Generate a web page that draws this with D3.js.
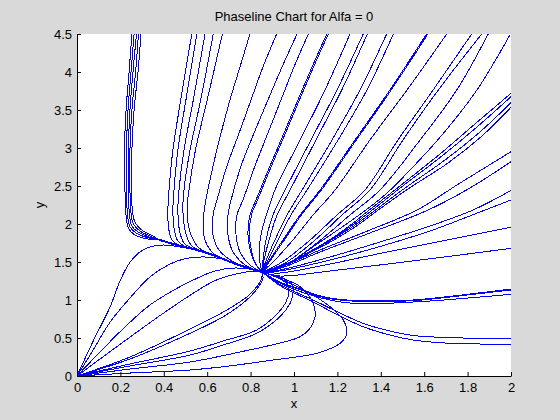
<!DOCTYPE html>
<html>
<head>
<meta charset="utf-8">
<script src="https://cdn.jsdelivr.net/npm/d3@7"></script>
<style>
  body { margin: 0; background: #d9d9d9; }
  text { font-family: "Liberation Sans", Arial, Helvetica, sans-serif; font-size: 13px; fill: #000; }
</style>
</head>
<body>
<div id="phase"></div>
<script>
// Trajectories, each one a list of [x, y] points
var xTicks = [0, 0.2, 0.4, 0.6, 0.8, 1, 1.2, 1.4, 1.6, 1.8, 2];
var yTicks = [0, 0.5, 1, 1.5, 2, 2.5, 3, 3.5, 4, 4.5];

// near-vertical bundle on the upper left
var leftBundle = [
  [[0.253,4.5],[0.240,4.0],[0.226,3.5],[0.219,2.974],[0.221,2.447],[0.226,2.118],[0.237,1.947],[0.263,1.862],[0.313,1.809],[0.382,1.789]],
  [[0.263,4.5],[0.249,4.0],[0.235,3.5],[0.228,2.974],[0.228,2.447],[0.233,2.118],[0.244,1.961],[0.272,1.882],[0.323,1.822],[0.382,1.789]],
  [[0.274,4.5],[0.258,4.0],[0.244,3.5],[0.237,2.974],[0.237,2.447],[0.242,2.118],[0.253,1.974],[0.281,1.895],[0.332,1.829],[0.382,1.789]],
  [[0.283,4.5],[0.270,4.0],[0.253,3.5],[0.244,2.974],[0.244,2.447],[0.249,2.145],[0.260,2.0],[0.290,1.908],[0.336,1.842],[0.382,1.789]],
  [[0.295,4.5],[0.281,4.0],[0.263,3.5],[0.253,2.974],[0.251,2.447],[0.256,2.158],[0.267,2.026],[0.295,1.928],[0.341,1.855],[0.382,1.789]]
];

// the common path everything collapses onto
var spine = [[0.382,1.789],[0.475,1.711],[0.544,1.664],[0.627,1.592],[0.719,1.487],[0.797,1.414],[0.853,1.368]];

// lines dropping from the top between x = 0.5 and 0.7
var upperLines = [
  [[0.529,4.5],[0.478,3.632],[0.442,2.974],[0.424,2.447],[0.419,2.184],[0.422,1.947],[0.438,1.789],[0.475,1.711]],
  [[0.552,4.5],[0.502,3.632],[0.465,2.974],[0.447,2.447],[0.442,2.184],[0.447,1.947],[0.465,1.776],[0.507,1.689]],
  [[0.590,4.5],[0.536,3.632],[0.493,2.974],[0.470,2.447],[0.465,2.184],[0.472,1.921],[0.493,1.75],[0.544,1.664]],
  [[0.628,4.5],[0.570,3.632],[0.521,2.974],[0.493,2.447],[0.488,2.184],[0.498,1.921],[0.525,1.724],[0.581,1.633]],
  [[0.670,4.5],[0.600,3.632],[0.546,2.974],[0.516,2.447],[0.507,2.184],[0.521,1.895],[0.558,1.697],[0.627,1.592]]
];

// lines between the node and the top edge
var topFan = [
  [[0.797,4.5],[0.751,4.066],[0.705,3.632],[0.664,3.197],[0.627,2.763],[0.594,2.316],[0.581,2.026],[0.590,1.789],[0.627,1.618],[0.696,1.513],[0.751,1.45]],
  [[0.920,4.5],[0.857,4.066],[0.802,3.632],[0.747,3.197],[0.691,2.763],[0.645,2.316],[0.627,2.118],[0.627,1.855],[0.654,1.658],[0.714,1.513],[0.797,1.414]],
  [[1.014,4.5],[0.945,4.066],[0.880,3.632],[0.816,3.197],[0.756,2.763],[0.710,2.316],[0.696,2.118],[0.696,1.855],[0.719,1.632],[0.774,1.461],[0.853,1.368]],
  [[1.066,4.5],[1.0,4.066],[0.940,3.632],[0.880,3.197],[0.820,2.763],[0.765,2.316],[0.737,2.118],[0.733,1.855],[0.751,1.632],[0.797,1.461],[0.853,1.368]],
  [[1.151,4.5],[1.083,4.066],[1.018,3.632],[0.954,3.197],[0.889,2.763],[0.825,2.316],[0.797,2.118],[0.788,1.855],[0.802,1.618],[0.825,1.461],[0.853,1.368]],
  [[1.158,4.5],[1.090,4.066],[1.025,3.632],[0.961,3.197],[0.896,2.763],[0.832,2.316],[0.804,2.118],[0.795,1.855],[0.806,1.618],[0.827,1.461],[0.853,1.368]],
  [[1.258,4.5],[1.143,3.763],[1.028,3.105],[0.912,2.447],[0.880,2.184],[0.853,1.921],[0.839,1.658],[0.843,1.487],[0.853,1.368]],
  [[1.319,4.5],[1.198,3.763],[1.078,3.105],[0.959,2.447],[0.903,2.118],[0.871,1.789],[0.857,1.526],[0.853,1.368]],
  [[1.338,4.5],[1.220,3.763],[1.101,3.105],[0.982,2.447],[0.922,2.118],[0.885,1.789],[0.862,1.526],[0.853,1.368]],
  [[1.427,4.5],[1.304,3.763],[1.175,3.105],[1.037,2.447],[0.968,2.118],[0.912,1.789],[0.876,1.553],[0.853,1.368]],
  [[1.458,4.5],[1.336,3.763],[1.203,3.105],[1.060,2.447],[0.986,2.118],[0.926,1.789],[0.885,1.553],[0.853,1.368]],
  [[1.611,4.5],[1.442,3.763],[1.281,3.105],[1.120,2.447],[1.028,2.118],[0.949,1.789],[0.894,1.553],[0.853,1.368]],
  [[1.617,4.5],[1.448,3.763],[1.287,3.105],[1.126,2.447],[1.034,2.118],[0.955,1.789],[0.899,1.553],[0.853,1.368]],
  [[1.704,4.5],[1.521,3.763],[1.350,3.105],[1.189,2.447],[1.088,2.118],[0.995,1.789],[0.912,1.526],[0.853,1.368]],
  [[1.819,4.5],[1.641,3.763],[1.479,3.105],[1.327,2.447],[1.198,2.118],[1.074,1.789],[0.945,1.5],[0.853,1.368]],
  [[1.865,4.5],[1.665,3.763],[1.502,3.105],[1.350,2.447],[1.221,2.118],[1.092,1.776],[0.959,1.487],[0.853,1.368]],
  [[1.895,4.5],[1.750,3.763],[1.581,3.105],[1.396,2.447],[1.258,2.118],[1.111,1.763],[0.968,1.474],[0.853,1.368]],
  [[1.995,4.487],[1.843,3.763],[1.682,3.171],[1.535,2.711],[1.419,2.382],[1.281,2.079],[1.120,1.763],[0.982,1.5],[0.853,1.368]]
];

// tight bundle running to the right edge near y = 3.6
var rightBundle = [
  [[0.853,1.368],[0.926,1.434],[0.982,1.5],[1.074,1.638],[1.166,1.796],[1.258,1.980],[1.341,2.171],[1.488,2.5],[1.673,2.921],[1.834,3.316],[2.0,3.72]],
  [[0.853,1.368],[0.926,1.434],[0.982,1.5],[1.074,1.638],[1.171,1.800],[1.267,1.980],[1.355,2.171],[1.498,2.493],[1.682,2.895],[1.843,3.276],[2.0,3.675]],
  [[0.853,1.368],[0.926,1.434],[0.982,1.5],[1.078,1.638],[1.175,1.796],[1.276,1.975],[1.369,2.171],[1.512,2.474],[1.696,2.842],[1.857,3.211],[2.0,3.596]],
  [[0.853,1.368],[0.926,1.434],[0.986,1.5],[1.083,1.636],[1.184,1.790],[1.286,1.970],[1.382,2.171],[1.525,2.461],[1.710,2.803],[1.866,3.158],[2.0,3.536]]
];

// lines from the node to the right edge
var rightFan = [
  [[0.853,1.368],[0.935,1.428],[1.120,1.658],[1.350,1.921],[1.567,2.184],[1.765,2.539],[2.0,2.951]],
  [[0.853,1.368],[0.935,1.414],[1.120,1.632],[1.350,1.882],[1.618,2.184],[1.811,2.474],[2.0,2.82]],
  [[0.853,1.368],[0.935,1.395],[1.166,1.566],[1.396,1.763],[1.627,1.974],[1.825,2.184],[2.0,2.441]],
  [[0.853,1.368],[0.935,1.382],[1.166,1.526],[1.396,1.704],[1.627,1.908],[1.857,2.158],[2.0,2.316]],
  [[0.853,1.368],[0.935,1.355],[1.120,1.447],[1.396,1.612],[1.704,1.789],[2.0,1.957]],
  [[0.853,1.368],[0.935,1.316],[1.166,1.382],[1.396,1.461],[1.704,1.570],[2.0,1.680]],
  [[0.853,1.368],[0.935,1.237],[1.028,1.145],[1.135,1.043],[1.243,1.0],[1.396,0.987],[1.550,1.0],[1.704,1.043],[2.0,1.145]],
  [[0.853,1.368],[0.935,1.230],[1.028,1.136],[1.135,1.035],[1.243,0.991],[1.396,0.978],[1.550,0.991],[1.704,1.035],[2.0,1.132]],
  [[0.853,1.368],[0.935,1.224],[1.089,1.055],[1.243,0.964],[1.396,0.955],[1.627,0.987],[2.0,1.075]],
  [[0.853,1.368],[0.935,1.204],[1.088,1.0],[1.212,0.829],[1.318,0.693],[1.442,0.592],[1.548,0.533],[1.696,0.507],[1.857,0.496],[2.0,0.496]],
  [[0.853,1.368],[0.935,1.191],[1.088,0.974],[1.212,0.789],[1.318,0.649],[1.442,0.539],[1.548,0.474],[1.696,0.434],[1.857,0.421],[2.0,0.417]]
];

// lines leaving the origin, steepest first, then the loops
var originFan = [
  [[0,0],[0.077,0.474],[0.153,0.912],[0.200,1.263],[0.246,1.504],[0.292,1.636],[0.338,1.701],[0.400,1.724],[0.461,1.704],[0.544,1.664]],
  [[0,0],[0.069,0.316],[0.153,0.711],[0.244,1.026],[0.336,1.303],[0.429,1.474],[0.507,1.549],[0.590,1.566],[0.668,1.539],[0.751,1.447]],
  [[0,0],[0.106,0.316],[0.221,0.645],[0.336,0.934],[0.461,1.154],[0.553,1.286],[0.636,1.382],[0.728,1.421],[0.820,1.395],[0.853,1.368]],
  [[0,0],[0.200,0.420],[0.400,0.830],[0.553,1.120],[0.636,1.255],[0.728,1.338],[0.820,1.380],[0.853,1.368]],
  [[0,0],[0.244,0.25],[0.521,0.618],[0.674,0.842],[0.788,1.053],[0.843,1.237],[0.853,1.316],[0.853,1.368]],
  [[0,0],[0.244,0.224],[0.521,0.562],[0.674,0.780],[0.782,1.0],[0.839,1.184],[0.857,1.289],[0.853,1.368]],
  [[0,0],[0.244,0.158],[0.521,0.329],[0.674,0.461],[0.828,0.605],[0.917,0.803],[0.963,0.974],[0.977,1.118],[0.970,1.211],[0.935,1.276],[0.889,1.336]],
  [[0,0],[0.244,0.132],[0.521,0.276],[0.674,0.408],[0.828,0.562],[0.935,0.780],[0.982,0.957],[0.997,1.118],[0.989,1.220],[0.949,1.289],[0.889,1.342]],
  [[0,0],[0.244,0.092],[0.521,0.184],[0.751,0.316],[0.935,0.434],[1.028,0.517],[1.074,0.628],[1.097,0.780],[1.089,0.957],[1.059,1.088],[1.018,1.197],[0.959,1.270],[0.899,1.329],[0.866,1.355]],
  [[0,0],[0.244,0.039],[0.521,0.079],[0.674,0.122],[0.905,0.211],[1.105,0.299],[1.212,0.430],[1.243,0.562],[1.227,0.737],[1.166,0.912],[1.074,1.088],[0.982,1.22],[0.920,1.303],[0.866,1.355]]
];

var svgWidth = 560;
var svgHeight = 420;

var margin = {
  top: 34,
  right: 49,
  bottom: 44,
  left: 77
};

var width = svgWidth - margin.left - margin.right;
var height = svgHeight - margin.top - margin.bottom;

var svg = d3.select("#phase")
  .append("svg")
  .attr("width", svgWidth)
  .attr("height", svgHeight);

svg.append("rect")
  .attr("width", svgWidth)
  .attr("height", svgHeight)
  .attr("fill", "#d9d9d9");

var chartGroup = svg.append("g")
  .attr("transform", `translate(${margin.left}, ${margin.top})`);

chartGroup.append("rect")
  .attr("width", width)
  .attr("height", height)
  .attr("fill", "white");

chartGroup.append("clipPath")
  .attr("id", "plotClip")
  .append("rect")
  .attr("width", width)
  .attr("height", height);

// scales
var xLinearScale = d3.scaleLinear().domain([0, 2]).range([0, width]);
var yLinearScale = d3.scaleLinear().domain([0, 4.5]).range([height, 0]);

var trajLine = d3.line()
  .x(d => xLinearScale(d[0]))
  .y(d => yLinearScale(d[1]))
  .curve(d3.curveCatmullRom.alpha(0.5));

var allLines = [].concat(leftBundle, upperLines, topFan, rightBundle, rightFan, originFan);

var linesGroup = chartGroup.append("g")
  .attr("clip-path", "url(#plotClip)")
  .attr("shape-rendering", "crispEdges");

linesGroup.selectAll("path.traj")
  .data(allLines)
  .enter()
  .append("path")
  .classed("traj", true)
  .attr("d", trajLine)
  .attr("fill", "none")
  .attr("stroke", "#0000ff")
  .attr("stroke-width", 1);

linesGroup.append("path")
  .datum(spine)
  .attr("d", trajLine)
  .attr("fill", "none")
  .attr("stroke", "#0000ff")
  .attr("stroke-width", 2);

// axes, ticks pointing inwards like the original
var bottomAxis = d3.axisBottom(xLinearScale)
  .tickValues(xTicks)
  .tickFormat(d => String(d))
  .tickSizeInner(-4)
  .tickSizeOuter(0)
  .tickPadding(7);

var leftAxis = d3.axisLeft(yLinearScale)
  .tickValues(yTicks)
  .tickFormat(d => String(d))
  .tickSizeInner(-4)
  .tickSizeOuter(0)
  .tickPadding(5);

var xAxis = chartGroup.append("g")
  .attr("transform", `translate(0, ${height})`)
  .call(bottomAxis);

var yAxis = chartGroup.append("g")
  .call(leftAxis);

chartGroup.selectAll(".tick text")
  .attr("font-family", null)
  .attr("font-size", null);
chartGroup.selectAll(".domain, .tick line")
  .attr("stroke", "#000");

// labels
svg.append("text")
  .attr("x", margin.left + width / 2)
  .attr("y", 21)
  .attr("text-anchor", "middle")
  .text("Phaseline Chart for Alfa = 0");

svg.append("text")
  .attr("x", margin.left + width / 2)
  .attr("y", 408)
  .attr("text-anchor", "middle")
  .text("x");

svg.append("text")
  .attr("transform", `translate(44, ${margin.top + height / 2}) rotate(-90)`)
  .attr("text-anchor", "middle")
  .text("y");
</script>
</body>
</html>
